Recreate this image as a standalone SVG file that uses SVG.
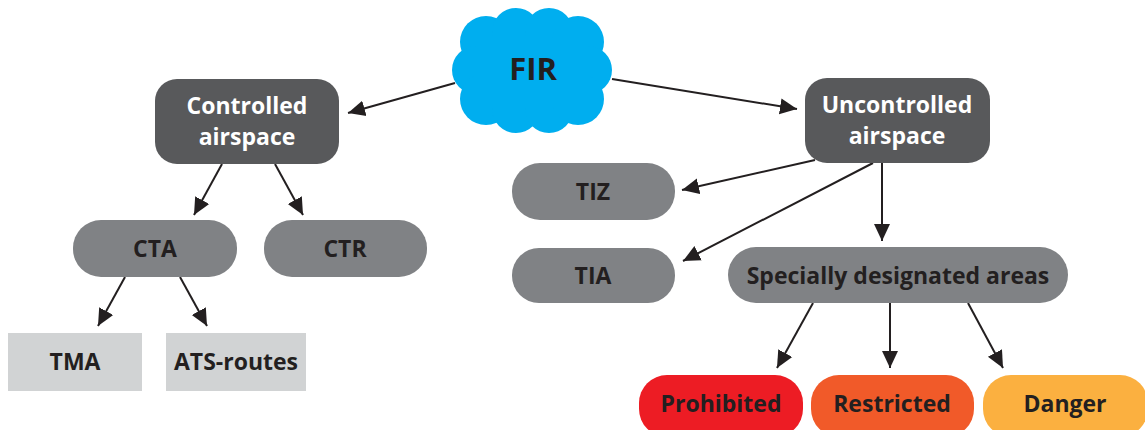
<svg xmlns="http://www.w3.org/2000/svg" width="1145" height="430" viewBox="0 0 1145 430">
<defs>
<style>
.t{font-family:"Open Sans","Liberation Sans",sans-serif;font-weight:700;font-size:23px;text-anchor:middle;fill:#231f20}
.w{fill:#ffffff}
.dk{fill:#58595b}
.gr{fill:#808285}
.lt{fill:#d1d3d4}
.c{stroke:#231f20;stroke-width:2;fill:none;marker-end:url(#ah)}
</style>
<marker id="ah" markerUnits="userSpaceOnUse" markerWidth="18" markerHeight="18" viewBox="0 0 18 18" refX="17" refY="9" orient="auto">
<path d="M0,1 L17,9 L0,17 Z" fill="#231f20"/>
</marker>
</defs>
<rect width="1145" height="430" fill="#ffffff"/>
<g id="connectors">
<line class="c" x1="455" y1="83" x2="348" y2="113"/>
<line class="c" x1="612" y1="79" x2="797" y2="109"/>
<line class="c" x1="222" y1="164" x2="194" y2="215"/>
<line class="c" x1="275" y1="164" x2="303" y2="215"/>
<line class="c" x1="125" y1="277" x2="98" y2="326"/>
<line class="c" x1="180" y1="277" x2="207" y2="326"/>
<line class="c" x1="815" y1="160" x2="682" y2="190"/>
<line class="c" x1="873" y1="163" x2="683" y2="261"/>
<line class="c" x1="882" y1="163" x2="882" y2="241"/>
<line class="c" x1="813" y1="303" x2="777" y2="368"/>
<line class="c" x1="890" y1="303" x2="890" y2="368"/>
<line class="c" x1="968" y1="303" x2="1003" y2="368"/>
</g>
<g id="fir">
<g fill="#00aeef">
<circle cx="486" cy="42" r="26"/>
<circle cx="516" cy="32" r="24"/>
<circle cx="549" cy="32" r="24"/>
<circle cx="578" cy="42" r="26"/>
<circle cx="476" cy="70" r="24"/>
<circle cx="588" cy="70" r="24"/>
<circle cx="486" cy="99" r="26"/>
<circle cx="516" cy="109" r="24"/>
<circle cx="549" cy="109" r="24"/>
<circle cx="578" cy="99" r="26"/>
<rect x="476" y="38" width="112" height="66"/>
</g>
<text class="t" x="533" y="80" style="font-size:31px">FIR</text>
</g>
<g id="controlled">
<rect class="dk" x="155" y="79" width="184" height="85" rx="22"/>
<text class="t w" x="247" y="114">Controlled</text>
<text class="t w" x="247" y="145">airspace</text>
</g>
<g id="uncontrolled">
<rect class="dk" x="805" y="78" width="185" height="85" rx="22"/>
<text class="t w" x="897" y="113">Uncontrolled</text>
<text class="t w" x="897" y="144">airspace</text>
</g>
<g id="cta">
<rect class="gr" x="73" y="220" width="164" height="57" rx="28"/>
<text class="t" x="155" y="257">CTA</text>
</g>
<g id="ctr">
<rect class="gr" x="264" y="220" width="163" height="57" rx="28"/>
<text class="t" x="345" y="257">CTR</text>
</g>
<g id="tiz">
<rect class="gr" x="512" y="163" width="163" height="57" rx="28"/>
<text class="t" x="593" y="200">TIZ</text>
</g>
<g id="tia">
<rect class="gr" x="512" y="248" width="163" height="55" rx="27"/>
<text class="t" x="593" y="284">TIA</text>
</g>
<g id="sda">
<rect class="gr" x="728" y="247" width="340" height="56" rx="28"/>
<text class="t" x="898" y="284">Specially designated areas</text>
</g>
<g id="tma">
<rect class="lt" x="8" y="333" width="134" height="58"/>
<text class="t" x="75" y="370">TMA</text>
</g>
<g id="ats">
<rect class="lt" x="166" y="333" width="140" height="58"/>
<text class="t" x="236" y="370">ATS-routes</text>
</g>
<g id="prohibited">
<rect fill="#ed1c24" x="639" y="375" width="164" height="62" rx="28"/>
<text class="t" x="721" y="412">Prohibited</text>
</g>
<g id="restricted">
<rect fill="#f15a29" x="811" y="375" width="163" height="62" rx="28"/>
<text class="t" x="892" y="412">Restricted</text>
</g>
<g id="danger">
<rect fill="#fbb040" x="983" y="375" width="165" height="62" rx="28"/>
<text class="t" x="1065" y="412">Danger</text>
</g>
</svg>
